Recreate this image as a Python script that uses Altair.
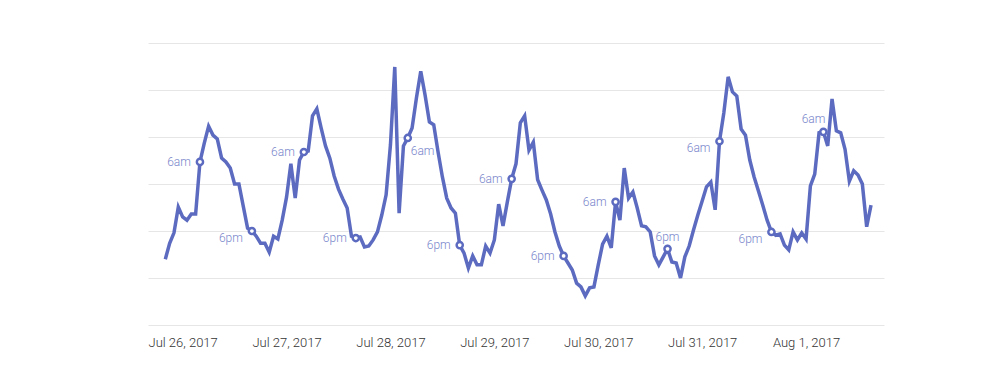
import altair as alt
import pandas as pd

# hourly readings, first reading at hour -2 (Jul 25, 22:00)
start_hour = -2
values = [
    14.0, 17.4, 19.6, 25.1, 23.0, 22.3, 23.6, 23.6, 34.7, 38.7,
    42.3, 40.4, 39.6, 35.5, 34.7, 33.4, 30.0, 30.0, 25.3, 20.6,
    20.0, 18.9, 17.4, 17.4, 15.5, 18.9, 18.3, 22.3, 27.2, 34.3,
    27.0, 35.1, 36.8, 37.0, 44.5, 46.0, 41.9, 38.1, 35.5, 31.7,
    28.9, 26.8, 24.9, 18.9, 18.5, 18.7, 16.6, 16.8, 18.1, 19.8,
    23.4, 27.7, 38.3, 54.9, 23.8, 38.1, 39.8, 41.9, 48.3, 54.0,
    48.9, 43.2, 42.6, 36.8, 31.5, 27.0, 24.9, 23.8, 17.0, 15.3,
    12.1, 14.7, 12.8, 12.8, 16.8, 15.3, 18.1, 25.7, 21.1, 26.2,
    31.1, 34.3, 43.0, 44.5, 37.2, 38.9, 30.9, 28.7, 26.6, 23.6,
    19.8, 16.8, 14.7, 13.2, 11.7, 8.9, 8.1, 6.2, 7.9, 8.1,
    12.8, 17.2, 18.9, 16.4, 26.2, 22.3, 33.4, 27.0, 28.3, 24.9,
    21.1, 20.9, 19.8, 14.7, 12.8, 14.5, 16.2, 13.4, 13.2, 10.0,
    14.5, 16.8, 20.2, 23.4, 26.4, 29.4, 30.4, 24.5, 39.1, 45.1,
    52.8, 49.6, 48.7, 41.7, 40.4, 35.1, 31.5, 28.5, 25.5, 22.3,
    19.8, 19.1, 19.4, 17.0, 16.0, 19.8, 18.1, 19.6, 18.3, 29.6,
    32.1, 40.9, 41.1, 38.1, 48.1, 41.3, 40.9, 37.4, 30.6, 32.8,
    31.9, 30.0, 20.9, 25.5,
]
hours = list(range(start_hour, start_hour + len(values)))

tick_hours = [2, 26, 50, 74, 98, 122, 146]
tick_labels = ["Jul 26, 2017", "Jul 27, 2017", "Jul 28, 2017", "Jul 29, 2017",
               "Jul 30, 2017", "Jul 31, 2017", "Aug 1, 2017"]

marker_hours = [6, 18, 30, 42, 54, 66, 78, 90, 102, 114, 126, 138, 150]
marker_labels = ["6am", "6pm", "6am", "6pm", "6am", "6pm", "6am",
                 "6pm", "6am", "6pm", "6am", "6pm", "6am"]
marker_place = ["left", "left_below", "left", "left", "right_below", "left", "left",
                "left", "left", "above", "left_below", "left_below", "upper_left"]

line_df = pd.DataFrame({"hour": hours, "value": values})
val_by_hour = dict(zip(hours, values))
mark_df = pd.DataFrame({
    "hour": marker_hours,
    "value": [val_by_hour[h] for h in marker_hours],
    "label": marker_labels,
    "place": marker_place,
})

LINE = "#5c6bc0"
TEXT = "#7986cb"

label_expr = "[" + ",".join("'%s'" % t for t in tick_labels) + "][round((datum.value - 2) / 24)]"

x_enc = alt.X("hour:Q", scale=alt.Scale(domain=[-6, 164], nice=False, zero=False),
              axis=alt.Axis(values=tick_hours, labelExpr=label_expr, title=None,
                            grid=False, ticks=False, domain=False, tickSize=0,
                            labelPadding=11, labelFontSize=13, labelColor="#333333",
                            labelFont="Roboto", labelFontWeight=300))
y_enc = alt.Y("value:Q", scale=alt.Scale(domain=[0, 60], nice=False),
              axis=alt.Axis(values=[0, 10, 20, 30, 40, 50, 60], title=None, labels=False,
                            ticks=False, domain=False, grid=True, gridColor="#e6e6e6",
                            gridWidth=1))

line = alt.Chart(line_df).mark_line(color=LINE, strokeWidth=3.5).encode(x=x_enc, y=y_enc)

points = alt.Chart(mark_df).mark_point(
    shape="circle", filled=False, fill="white", fillOpacity=1, stroke=LINE,
    strokeWidth=2.5, size=38, opacity=1
).encode(x="hour:Q", y="value:Q")

placements = {
    "left": dict(align="right", baseline="middle", dx=-9, dy=0),
    "left_below": dict(align="right", baseline="middle", dx=-9, dy=7),
    "right_below": dict(align="left", baseline="middle", dx=3, dy=13),
    "above": dict(align="center", baseline="middle", dx=0, dy=-12),
    "upper_left": dict(align="right", baseline="middle", dx=2, dy=-13),
}

texts = []
for name, opts in placements.items():
    texts.append(
        alt.Chart(mark_df).transform_filter(alt.datum.place == name)
        .mark_text(font="Roboto", fontSize=12, fontWeight=300, color=TEXT, **opts)
        .encode(x="hour:Q", y="value:Q", text="label:N")
    )

chart = alt.layer(line, points, *texts).properties(
    width=736, height=282,
    padding={"left": 140, "top": 35, "right": 108, "bottom": 59},
    autosize=alt.AutoSizeParams(type="none"),
).configure(background="white").configure_view(stroke=None)

chart.save("out.html", embed_options={"renderer": "svg", "actions": False})
